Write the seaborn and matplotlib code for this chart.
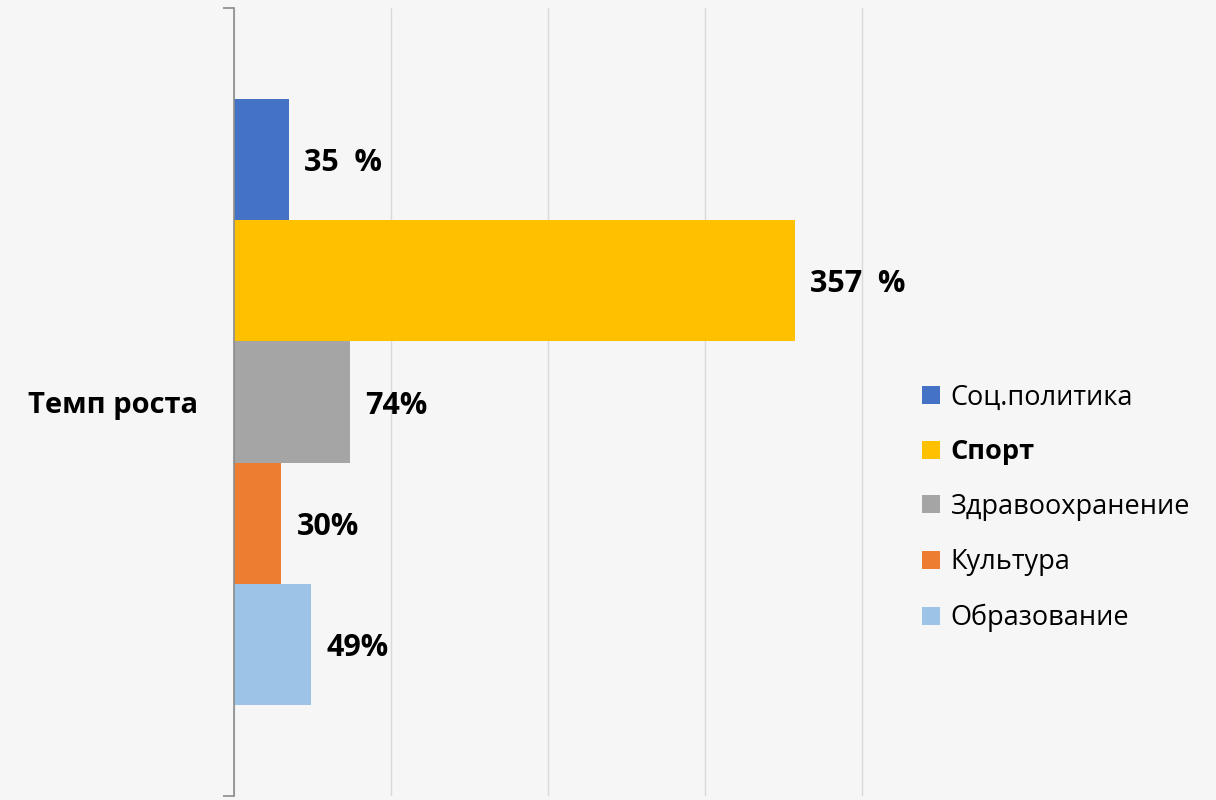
import numpy as np, pandas as pd
import matplotlib
matplotlib.use("Agg")
import matplotlib.pyplot as plt
import seaborn as sns

# данные диаграммы
group = "Темп роста"
sectors = ["Соц.политика", "Спорт", "Здравоохранение", "Культура", "Образование"]
growth = [35, 357, 74, 30, 49]
value_labels = ["35  %", "357  %", "74%", "30%", "49%"]
colors = ["#4472C4", "#FFC000", "#A5A5A5", "#ED7D31", "#9DC3E6"]

sns.set_theme(style="white")
plt.rcParams["font.family"] = ["Open Sans", "DejaVu Sans"]

df = pd.DataFrame({"group": group, "sector": sectors, "growth": growth})

fig = plt.figure(figsize=(12.16, 8), dpi=100, facecolor="#f6f6f6")
ax = fig.add_axes([234/1216, 4/800, 630/1216, 788/800])
ax.set_facecolor("none")

sns.barplot(data=df, y="group", x="growth", hue="sector", hue_order=sectors,
            palette=colors, orient="h", width=0.77, saturation=1, ax=ax,
            legend=True, linewidth=0)

for cont, lab in zip(ax.containers, value_labels):
    t = ax.bar_label(cont, labels=[lab], padding=11, fontsize=22, fontweight="bold", color="black")
    for txt in t:
        txt.set_va("center_baseline")

ax.set_xlim(0, 401)
ax.set_ylim(0.5, -0.5)
ax.set_xticks([0, 100, 200, 300, 400])
ax.set_xticklabels([])
ax.xaxis.grid(True, color="#d9d9d9", linewidth=1)
ax.set_axisbelow(True)
ax.set_xlabel(""); ax.set_ylabel("")
for s in ["top", "right", "bottom"]:
    ax.spines[s].set_visible(False)
ax.spines["left"].set_color("#8c8c8c")
ax.spines["left"].set_linewidth(1.2)
ax.tick_params(axis="x", length=0)
ax.set_yticks([0])
ax.set_yticklabels([group], fontsize=21, fontweight="bold", color="black")
ax.tick_params(axis="y", which="major", length=0, pad=26)
ax.set_yticks([-0.5, 0.5], minor=True)
ax.tick_params(axis="y", which="minor", length=8, width=1.2, color="#8c8c8c", left=True, direction="out")

ax.legend_.remove()
handles, labels = ax.get_legend_handles_labels()
leg = fig.legend(handles, labels, loc="center left", bbox_to_anchor=(922/1216, 1-508/800),
                 frameon=False, fontsize=19.5, handlelength=0.65, handleheight=0.65,
                 handletextpad=0.4, labelspacing=1.02, borderpad=0, borderaxespad=0)
for t in leg.get_texts():
    t.set_color("black")
leg.get_texts()[1].set_fontweight("bold")

fig.savefig("out.png", dpi=100, facecolor=fig.get_facecolor())
